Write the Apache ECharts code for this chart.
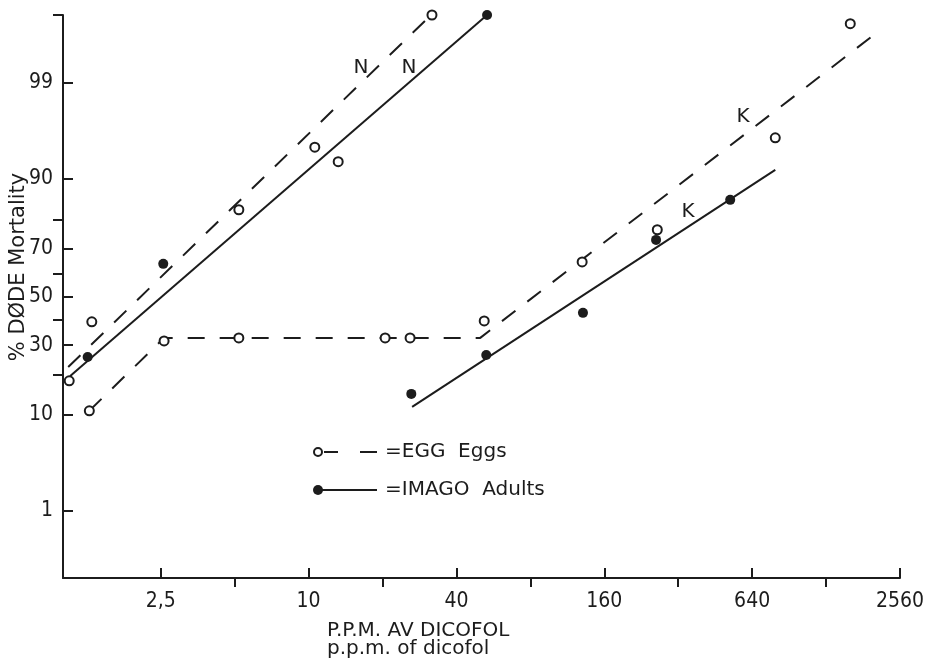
<!DOCTYPE html>
<html>
<head>
<meta charset="utf-8">
<script src="https://cdn.jsdelivr.net/npm/echarts@6/dist/echarts.min.js"></script>
<style>
  html, body { margin: 0; padding: 0; background: #ffffff; }
  #chart { width: 929px; height: 659px; }
</style>
</head>
<body>
<div id="chart"></div>
<script>
// Dicofol dose–mortality data: concentration in ppm, mortality in percent.
// Eggs (open circles)
const eggNppm = [1.06, 1.31, 5.2, 10.6, 13.2, 31.8];
const eggNpct = [18.1, 39.3, 82.8, 94.8, 92.9, 99.89];
const eggKppm = [1.28, 2.58, 5.2, 20.5, 25.9, 51.9, 130, 263, 795, 1606];
const eggKpct = [10.8, 31.6, 32.8, 32.8, 32.8, 39.7, 64.8, 76.7, 95.8, 99.85];
// Adults (filled dots)
const adultNppm = [1.26, 2.56, 53.3];
const adultNpct = [25.7, 64.0, 99.89];
const adultKppm = [26.2, 52.9, 131, 260, 521];
const adultKpct = [14.6, 26.4, 43.1, 73.2, 85.4];

// Fitted probit lines (end points and break points)
const eggNLinePpm = [1.05, 31.3];
const eggNLinePct = [22.3, 99.887];
const adultNLinePpm = [1.07, 53.3];
const adultNLinePct = [19.5, 99.89];
const eggKLinePpm = [1.28, 2.58, 50, 2010];
const eggKLinePct = [10.8, 32.8, 32.8, 99.78];
const adultKLinePpm = [26.4, 795];
const adultKLinePct = [11.6, 91.6];

// Axis ticks
const xTickPpm = [2.5, 10, 40, 160, 640, 2560];
const xTickLabels = ['2,5', '10', '40', '160', '640', '2560'];
const xMinorPpm = [5, 20, 80, 320, 1280];
const xRangePpm = [1, 2560];
const yTickPct = [1, 10, 30, 50, 70, 90, 99];
const yTickLabels = ['1', '10', '30', '50', '70', '90', '99'];
const yMinorPct = [20, 40, 60, 80];
const yRangePct = [0.113, 99.89];

const INK = '#1c1c1c';
const NUM_FONT = '"Liberation Sans Narrow", "DejaVu Sans Condensed", sans-serif';
const TXT_FONT = '"DejaVu Sans", sans-serif';

// Inverse of the standard normal CDF (Acklam), percent -> probit units
function probit(pct) {
  const p = pct / 100;
  const a = [-3.969683028665376e+01, 2.209460984245205e+02, -2.759285104469687e+02, 1.383577518672690e+02, -3.066479806614716e+01, 2.506628277459239e+00];
  const b = [-5.447609879822406e+01, 1.615858368580409e+02, -1.556989798598866e+02, 6.680131188771972e+01, -1.328068155288572e+01];
  const c = [-7.784894002430293e-03, -3.223964580411365e-01, -2.400758277161838e+00, -2.549732539343734e+00, 4.374664141464968e+00, 2.938163982698783e+00];
  const d = [7.784695709041462e-03, 3.224671290700398e-01, 2.445134137142996e+00, 3.754408661907416e+00];
  const pl = 0.02425, ph = 1 - pl;
  let q, r;
  if (p < pl) {
    q = Math.sqrt(-2 * Math.log(p));
    return (((((c[0]*q+c[1])*q+c[2])*q+c[3])*q+c[4])*q+c[5]) / ((((d[0]*q+d[1])*q+d[2])*q+d[3])*q+1);
  }
  if (p <= ph) {
    q = p - 0.5; r = q * q;
    return (((((a[0]*r+a[1])*r+a[2])*r+a[3])*r+a[4])*r+a[5])*q / (((((b[0]*r+b[1])*r+b[2])*r+b[3])*r+b[4])*r+1);
  }
  q = Math.sqrt(-2 * Math.log(1 - p));
  return -(((((c[0]*q+c[1])*q+c[2])*q+c[3])*q+c[4])*q+c[5]) / ((((d[0]*q+d[1])*q+d[2])*q+d[3])*q+1);
}
const lx = v => Math.log2(v);
const pts = (ppm, pct) => ppm.map((v, i) => [lx(v), probit(pct[i])]);

const xMajor = xTickPpm.map(lx);
const xMinor = xMinorPpm.map(lx);
const yMajor = yTickPct.map(probit);
const yMinor = yMinorPct.map(probit);
const X_MIN = lx(xRangePpm[0]), X_MAX = lx(xRangePpm[1]);
const Y_MIN = probit(yRangePct[0]), Y_MAX = probit(yRangePct[1]);

function lookup(values, labels) {
  return v => {
    for (let i = 0; i < values.length; i++) {
      if (Math.abs(values[i] - v) < 1e-6) return labels[i];
    }
    return '';
  };
}

const dashed = { color: INK, width: 2, type: [17, 15] };
const solid = { color: INK, width: 2, type: 'solid' };

function lineSeries(ppm, pct, style) {
  return {
    type: 'line', data: pts(ppm, pct), symbol: 'none', silent: true,
    lineStyle: style, z: 2, animation: false
  };
}
function openDots(ppm, pct) {
  return {
    type: 'scatter', data: pts(ppm, pct), symbol: 'circle', symbolSize: 9,
    itemStyle: { color: '#ffffff', borderColor: INK, borderWidth: 2, opacity: 1 }, z: 4, animation: false
  };
}
function filledDots(ppm, pct) {
  return {
    type: 'scatter', data: pts(ppm, pct), symbol: 'circle', symbolSize: 10,
    itemStyle: { color: INK, borderWidth: 0, opacity: 1 }, z: 5, animation: false
  };
}

const chart = echarts.init(document.getElementById('chart'), null, { renderer: 'canvas' });

const option = {
  backgroundColor: '#ffffff',
  animation: false,
  grid: { left: 63, top: 15, right: 29, bottom: 81, containLabel: false },
  xAxis: [
    {
      type: 'value', position: 'bottom', min: X_MIN, max: X_MAX,
      splitLine: { show: false },
      axisLine: { onZero: false, lineStyle: { color: INK, width: 2 } },
      axisTick: { inside: true, length: 10, customValues: xMajor, lineStyle: { color: INK, width: 2 } },
      axisLabel: {
        customValues: xMajor, formatter: lookup(xMajor, xTickLabels), margin: 13,
        fontSize: 21, fontFamily: NUM_FONT, color: INK
      }
    },
    {
      type: 'value', position: 'bottom', min: X_MIN, max: X_MAX,
      splitLine: { show: false },
      axisLine: { show: false, onZero: false },
      axisTick: { inside: false, length: 9, customValues: xMinor, lineStyle: { color: INK, width: 2 } },
      axisLabel: { show: false }
    }
  ],
  yAxis: [
    {
      type: 'value', position: 'left', min: Y_MIN, max: Y_MAX,
      splitLine: { show: false },
      axisLine: { onZero: false, lineStyle: { color: INK, width: 2 } },
      axisTick: { inside: true, length: 10, customValues: yMajor, lineStyle: { color: INK, width: 2 } },
      axisLabel: {
        customValues: yMajor, formatter: lookup(yMajor, yTickLabels), margin: 10,
        fontSize: 21, fontFamily: NUM_FONT, color: INK
      }
    },
    {
      type: 'value', position: 'left', min: Y_MIN, max: Y_MAX,
      splitLine: { show: false },
      axisLine: { show: false, onZero: false },
      axisTick: { inside: false, length: 10, customValues: yMinor.concat([Y_MAX]), lineStyle: { color: INK, width: 2 } },
      axisLabel: { show: false }
    }
  ],
  series: [
    lineSeries(eggNLinePpm, eggNLinePct, dashed),
    lineSeries(adultNLinePpm, adultNLinePct, solid),
    lineSeries(eggKLinePpm, eggKLinePct, dashed),
    lineSeries(adultKLinePpm, adultKLinePct, solid),
    openDots(eggNppm, eggNpct),
    openDots(eggKppm, eggKpct),
    filledDots(adultNppm, adultNpct),
    filledDots(adultKppm, adultKpct)
  ],
  graphic: [
    // y-axis title
    { type: 'text', x: 19, y: 267, rotation: Math.PI / 2,
      style: { text: '% DØDE Mortality', fill: INK, font: '21px ' + TXT_FONT, align: 'center', verticalAlign: 'middle', textAlign: 'center', textVerticalAlign: 'middle' } },
    // x-axis title (two lines)
    { type: 'text', x: 327, y: 631,
      style: { text: 'P.P.M. AV DICOFOL', fill: INK, font: '20px ' + TXT_FONT, align: 'left', verticalAlign: 'middle', textAlign: 'left', textVerticalAlign: 'middle' } },
    { type: 'text', x: 327, y: 649,
      style: { text: 'p.p.m. of dicofol', fill: INK, font: '20px ' + TXT_FONT, align: 'left', verticalAlign: 'middle', textAlign: 'left', textVerticalAlign: 'middle' } },
    // line tags
    { type: 'text', x: 361, y: 68, style: { text: 'N', fill: INK, font: '20px ' + TXT_FONT, align: 'center', verticalAlign: 'middle', textAlign: 'center', textVerticalAlign: 'middle' } },
    { type: 'text', x: 409, y: 68, style: { text: 'N', fill: INK, font: '20px ' + TXT_FONT, align: 'center', verticalAlign: 'middle', textAlign: 'center', textVerticalAlign: 'middle' } },
    { type: 'text', x: 743, y: 117, style: { text: 'K', fill: INK, font: '20px ' + TXT_FONT, align: 'center', verticalAlign: 'middle', textAlign: 'center', textVerticalAlign: 'middle' } },
    { type: 'text', x: 688, y: 212, style: { text: 'K', fill: INK, font: '20px ' + TXT_FONT, align: 'center', verticalAlign: 'middle', textAlign: 'center', textVerticalAlign: 'middle' } },
    // key
    { type: 'circle', shape: { cx: 318, cy: 452, r: 4 }, style: { fill: '#ffffff', stroke: INK, lineWidth: 2 } },
    { type: 'line', shape: { x1: 324, y1: 452, x2: 338, y2: 452 }, style: { stroke: INK, lineWidth: 2 } },
    { type: 'line', shape: { x1: 360, y1: 452, x2: 377, y2: 452 }, style: { stroke: INK, lineWidth: 2 } },
    { type: 'text', x: 385, y: 452, style: { text: '=EGG  Eggs', fill: INK, font: '20px ' + TXT_FONT, align: 'left', verticalAlign: 'middle', textAlign: 'left', textVerticalAlign: 'middle' } },
    { type: 'circle', shape: { cx: 318, cy: 490, r: 5 }, style: { fill: INK } },
    { type: 'line', shape: { x1: 322, y1: 490, x2: 377, y2: 490 }, style: { stroke: INK, lineWidth: 2 } },
    { type: 'text', x: 385, y: 490, style: { text: '=IMAGO  Adults', fill: INK, font: '20px ' + TXT_FONT, align: 'left', verticalAlign: 'middle', textAlign: 'left', textVerticalAlign: 'middle' } }
  ]
};

chart.setOption(option);
</script>
</body>
</html>
